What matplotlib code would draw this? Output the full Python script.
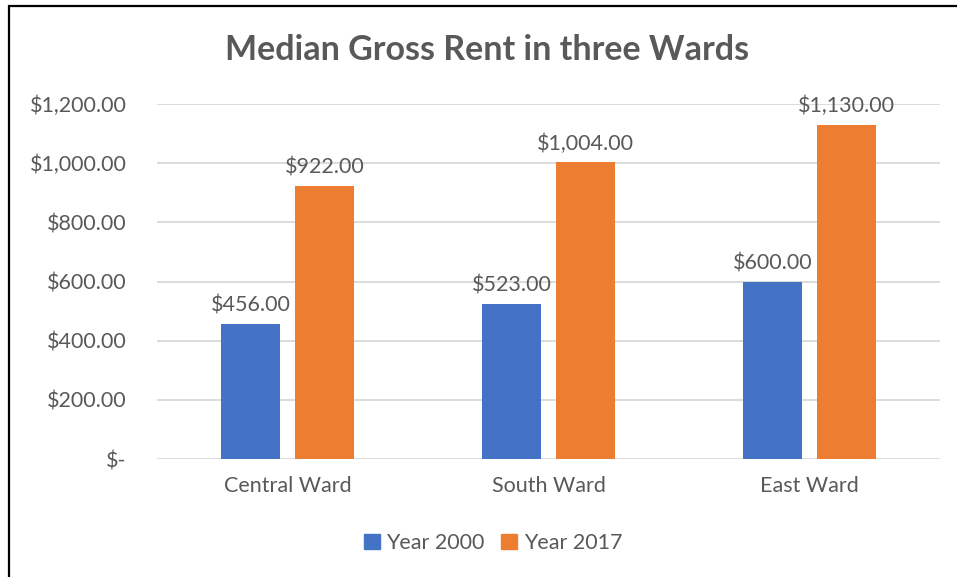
import numpy as np
import matplotlib
matplotlib.use("Agg")
import matplotlib.pyplot as plt
import matplotlib.patches as mpatches

plt.rcParams['font.family'] = ['Lato', 'DejaVu Sans']

wards = ["Central Ward", "South Ward", "East Ward"]
year_2000 = [456, 523, 600]
year_2017 = [922, 1004, 1130]
series_names = ["Year 2000", "Year 2017"]
y_ticks = [0, 200, 400, 600, 800, 1000, 1200]

blue = "#4472C4"
orange = "#ED7D31"
text_col = "#595959"
grid_col = "#D9D9D9"
fs = 15.5


def money(v):
    if v == 0:
        return "$-"
    return "${:,.2f}".format(v)


fig = plt.figure(figsize=(9.57, 5.77), dpi=100)
ax = fig.add_axes([157 / 957, 1 - 459 / 577, (940 - 157) / 957, (459 - 104) / 577])

x = np.arange(len(wards))
w = 0.226
gap = 0.058
b1 = ax.bar(x - (w + gap) / 2, year_2000, w, color=blue, zorder=3)
b2 = ax.bar(x + (w + gap) / 2, year_2017, w, color=orange, zorder=3)

for bars, vals in ((b1, year_2000), (b2, year_2017)):
    for r, v in zip(bars, vals):
        ax.annotate(money(v), (r.get_x() + r.get_width() / 2, v),
                    xytext=(0, 6), textcoords="offset points",
                    ha="center", va="bottom", fontsize=fs, color=text_col,
                    clip_on=False)

ax.set_xlim(-0.5, len(wards) - 0.5)
ax.set_ylim(0, 1200)
ax.set_yticks(y_ticks)
ax.set_yticklabels([money(v) for v in y_ticks])
ax.set_xticks(x)
ax.set_xticklabels(wards)
ax.yaxis.grid(True, color=grid_col, linewidth=1.3, zorder=0)
ax.tick_params(axis="y", length=0, pad=22, labelsize=fs, labelcolor=text_col)
ax.tick_params(axis="x", length=0, pad=12, labelsize=fs, labelcolor=text_col)
for s in ax.spines.values():
    s.set_visible(False)

fig.text(487 / 957, 1 - 50 / 577, "Median Gross Rent in three Wards",
         ha="center", va="center", fontsize=24.5, fontweight="bold", color=text_col)

handles = [mpatches.Patch(color=blue), mpatches.Patch(color=orange)]
fig.legend(handles, series_names, loc="center", bbox_to_anchor=(493 / 957, 1 - 543 / 577),
           ncol=2, frameon=False, fontsize=fs, labelcolor=text_col,
           handlelength=0.75, handleheight=0.75, handletextpad=0.3, columnspacing=0.75)

# chart frame (top and left edges visible)
fig.add_artist(mpatches.Rectangle((8.5 / 957, -0.05), 1.2, 1 - 5.5 / 577 + 0.05,
                                  transform=fig.transFigure, fill=False,
                                  edgecolor="black", linewidth=1.6))

fig.savefig("out.png", dpi=100)
